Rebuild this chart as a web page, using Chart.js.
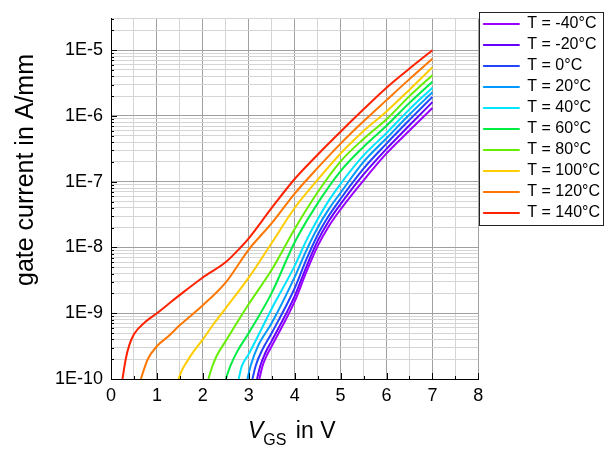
<!DOCTYPE html>
<html>
<head>
  <title>Gate current vs VGS</title>
  <script src="https://cdn.jsdelivr.net/npm/chart.js"></script>
  <style>
    body {
        margin: 0;
        background-color: white;
    }
    #wrap {
        width: 613px;
        height: 449px;
    }
  </style>
</head>
<body>
    <div id="wrap"><canvas id="myChart" width="613" height="449"></canvas></div>

    <script>
        // legend entries, top to bottom
        const tempLabels = ['T = -40°C', 'T = -20°C', 'T = 0°C', 'T = 20°C', 'T = 40°C',
                            'T = 60°C', 'T = 80°C', 'T = 100°C', 'T = 120°C', 'T = 140°C'];

        // V_GS in V / gate current in A/mm
        const vM40 = [3.23, 3.30, 3.40, 3.50, 4.00, 4.25, 4.50, 4.75, 5.00, 5.50, 6.00, 6.50, 7.00];
        const iM40 = [1.0e-10, 1.58e-10, 2.34e-10, 3.16e-10, 1.51e-9, 4.17e-9, 1.05e-8, 2.14e-8, 3.8e-8, 1.05e-7, 2.69e-7, 6.0e-7, 1.32e-6];
        const vM20 = [3.18, 3.25, 3.35, 3.50, 4.00, 4.25, 4.50, 4.75, 5.00, 5.50, 6.00, 6.50, 7.00];
        const iM20 = [1.0e-10, 1.58e-10, 2.4e-10, 3.8e-10, 1.82e-9, 5.0e-9, 1.26e-8, 2.57e-8, 4.57e-8, 1.29e-7, 3.16e-7, 7.2e-7, 1.62e-6];
        const v0 = [3.08, 3.15, 3.30, 3.50, 4.00, 4.25, 4.50, 4.75, 5.00, 5.50, 6.00, 6.50, 7.00];
        const i0 = [1.0e-10, 1.58e-10, 2.82e-10, 5.0e-10, 2.4e-9, 6.46e-9, 1.55e-8, 3.09e-8, 5.5e-8, 1.58e-7, 3.8e-7, 8.7e-7, 1.95e-6];
        const v20 = [2.97, 3.05, 3.20, 3.50, 4.00, 4.25, 4.50, 4.75, 5.00, 5.50, 6.00, 6.50, 7.00];
        const i20 = [1.0e-10, 1.66e-10, 3.16e-10, 7.1e-10, 3.55e-9, 8.9e-9, 2.0e-8, 3.89e-8, 6.8e-8, 2.0e-7, 4.57e-7, 1.05e-6, 2.29e-6];
        const v40 = [2.78, 2.85, 3.00, 3.50, 4.00, 4.25, 4.50, 4.75, 5.00, 5.50, 6.00, 6.50, 7.00];
        const i40 = [1.0e-10, 1.58e-10, 2.4e-10, 1.17e-9, 5.25e-9, 1.26e-8, 2.69e-8, 5.25e-8, 9.3e-8, 2.51e-7, 5.5e-7, 1.26e-6, 2.69e-6];
        const v60 = [2.50, 2.60, 2.75, 3.00, 3.50, 4.00, 4.50, 5.00, 5.50, 6.00, 6.50, 7.00];
        const i60 = [1.0e-10, 1.58e-10, 2.63e-10, 5.0e-10, 2.04e-9, 1.2e-8, 4.68e-8, 1.45e-7, 3.39e-7, 7.1e-7, 1.58e-6, 3.31e-6];
        const v80 = [2.12, 2.20, 2.30, 2.50, 3.00, 3.50, 4.00, 4.50, 5.00, 5.50, 6.00, 6.50, 7.00];
        const i80 = [1.0e-10, 1.51e-10, 2.24e-10, 3.8e-10, 1.38e-9, 4.57e-9, 1.91e-8, 6.9e-8, 2.04e-7, 4.47e-7, 8.9e-7, 2.0e-6, 4.17e-6];
        const v100 = [1.47, 1.55, 1.65, 1.80, 2.00, 2.25, 2.50, 3.00, 3.50, 4.00, 4.50, 5.00, 5.50, 6.00, 6.50, 7.00];
        const i100 = [1.0e-10, 1.38e-10, 1.82e-10, 2.63e-10, 4.0e-10, 7.1e-10, 1.2e-9, 3.47e-9, 1.17e-8, 3.98e-8, 1.07e-7, 2.69e-7, 5.9e-7, 1.17e-6, 2.51e-6, 5.5e-6];
        const v120 = [0.65, 0.72, 0.80, 1.00, 1.25, 1.50, 2.00, 2.50, 3.00, 3.50, 4.00, 4.50, 5.00, 5.50, 6.00, 6.50, 7.00];
        const i120 = [1.0e-10, 1.41e-10, 2.0e-10, 3.16e-10, 4.47e-10, 6.6e-10, 1.32e-9, 2.95e-9, 9.3e-9, 2.34e-8, 6.6e-8, 1.62e-7, 3.8e-7, 8.3e-7, 1.74e-6, 3.63e-6, 7.4e-6];
        const v140 = [0.25, 0.32, 0.40, 0.50, 0.75, 1.00, 1.25, 1.50, 2.00, 2.50, 2.82, 3.00, 3.50, 4.00, 4.50, 5.00, 5.50, 6.00, 6.50, 7.00];
        const i140 = [1.0e-10, 2.0e-10, 3.3e-10, 4.8e-10, 7.4e-10, 1.0e-9, 1.38e-9, 1.9e-9, 3.5e-9, 6.0e-9, 1.0e-8, 1.38e-8, 4.0e-8, 1.1e-7, 2.57e-7, 5.75e-7, 1.26e-6, 2.69e-6, 5.25e-6, 1.0e-5];

        const xTickLabels = ['0', '1', '2', '3', '4', '5', '6', '7', '8'];
        const yTickLabels = ['1E-10', '1E-9', '1E-8', '1E-7', '1E-6', '1E-5'];

        const lineColors = ['#9900ff', '#6600ff', '#2244ff', '#0099ff', '#00e5ff',
                            '#00ee44', '#66ee00', '#ffcc00', '#ff7700', '#ff2200'];

        const seriesV = [vM40, vM20, v0, v20, v40, v60, v80, v100, v120, v140];
        const seriesI = [iM40, iM20, i0, i20, i40, i60, i80, i100, i120, i140];

        const FONT = "'Liberation Sans', Arial, sans-serif";

        function decadeIndex(v) {
            const l = Math.log10(v);
            if (Math.abs(l - Math.round(l)) > 1e-6) return -1;
            return Math.round(l) + 10;
        }

        const datasets = tempLabels.map((lab, k) => ({
            label: lab,
            data: seriesV[k].map((v, j) => ({x: v, y: seriesI[k][j]})),
            borderColor: lineColors[k],
            backgroundColor: lineColors[k],
            borderWidth: 2,
            pointRadius: 0,
            fill: false,
            cubicInterpolationMode: 'monotone'
        }));

        // inward ticks, legend frame and axis titles
        const axisExtras = {
            id: 'axisExtras',
            afterDraw(chart) {
                const ctx = chart.ctx;
                const a = chart.chartArea;
                const xs = chart.scales.x;
                const ys = chart.scales.y;
                ctx.save();
                ctx.strokeStyle = '#000';
                ctx.lineWidth = 1;
                ctx.beginPath();
                ys.ticks.forEach(t => {
                    const y = Math.round(ys.getPixelForValue(t.value)) + 0.5;
                    const len = decadeIndex(t.value) >= 0 ? 6 : 3;
                    ctx.moveTo(a.left, y);
                    ctx.lineTo(a.left + len, y);
                });
                xs.ticks.forEach(t => {
                    const x = Math.round(xs.getPixelForValue(t.value)) + 0.5;
                    const len = Number.isInteger(t.value) ? 6 : 3;
                    ctx.moveTo(x, a.bottom);
                    ctx.lineTo(x, a.bottom - len);
                });
                ctx.stroke();

                // frame round the legend
                const hb = chart.legend.legendHitBoxes;
                if (hb && hb.length) {
                    const first = hb[0], last = hb[hb.length - 1];
                    const l = Math.round(first.left - 4) + 0.5;
                    const t = Math.round(first.top - 4) + 0.5;
                    const r = Math.round(first.left + 120) + 0.5;
                    const b = Math.round(last.top + last.height + 4) + 0.5;
                    ctx.strokeStyle = '#222';
                    ctx.strokeRect(l, t, r - l, b - t);
                }

                // y title
                ctx.fillStyle = '#000';
                ctx.font = '25px ' + FONT;
                ctx.textAlign = 'center';
                ctx.textBaseline = 'alphabetic';
                ctx.translate(33, 170);
                ctx.rotate(-Math.PI / 2);
                ctx.fillText('gate current in A/mm', 0, 0);
                ctx.setTransform(1, 0, 0, 1, 0, 0);

                // x title: V_GS in V
                ctx.textAlign = 'left';
                const fMain = '23px ' + FONT;
                const fItal = 'italic 23px ' + FONT;
                const fSub = '16px ' + FONT;
                ctx.font = fItal; const wV = ctx.measureText('V').width;
                ctx.font = fSub; const wS = ctx.measureText('GS').width;
                let x = 248;
                const base = 438;
                ctx.font = fItal; ctx.fillText('V', x, base); x += wV;
                ctx.font = fSub; ctx.fillText('GS', x, base + 7); x += wS + 3;
                ctx.font = fMain; ctx.fillText(' in V', x, base);
                ctx.restore();
            }
        };

        const ctx = document.getElementById('myChart').getContext('2d');
        const myChart = new Chart(ctx, {
            type: 'line',
            data: { datasets: datasets },
            options: {
                responsive: false,
                animation: false,
                layout: { padding: { top: 7, right: 3, left: 0, bottom: 0 } },
                plugins: {
                    title: { display: false },
                    tooltip: { enabled: false },
                    legend: {
                        position: 'right',
                        align: 'start',
                        title: { display: true, text: ' ', font: { size: 3 }, padding: 0.2 },
                        labels: {
                            boxWidth: 36,
                            boxHeight: 1,
                            padding: 5,
                            color: '#000',
                            font: { family: FONT, size: 16 },
                            generateLabels: chart => Chart.defaults.plugins.legend.labels.generateLabels(chart)
                                .map(l => Object.assign(l, { lineWidth: 1, fillStyle: l.strokeStyle }))
                        }
                    }
                },
                scales: {
                    x: {
                        type: 'linear',
                        min: 0,
                        max: 8,
                        afterBuildTicks: s => {
                            const t = [];
                            for (let k = 0; k <= 16; k++) t.push({ value: k / 2 });
                            s.ticks = t;
                        },
                        afterFit: s => { s.height = 70; },
                        ticks: {
                            autoSkip: false,
                            maxRotation: 0,
                            padding: 6,
                            color: '#000',
                            font: { family: FONT, size: 18 },
                            callback: v => Number.isInteger(v) ? xTickLabels[v] : ''
                        },
                        grid: {
                            drawTicks: false,
                            color: c => c.tick.value === 0 ? 'rgba(0,0,0,0)' :
                                (Number.isInteger(c.tick.value) ? '#a0a0a0' : '#d4d4d4')
                        },
                        border: { color: '#000', width: 1 }
                    },
                    y: {
                        type: 'logarithmic',
                        min: 1e-10,
                        max: 3e-5,
                        afterBuildTicks: s => {
                            const t = [];
                            for (let e = -10; e <= -5; e++) {
                                for (let k = 1; k <= 9; k++) {
                                    const v = k * Math.pow(10, e);
                                    if (v <= 3.0001e-5) t.push({ value: v });
                                }
                            }
                            s.ticks = t;
                        },
                        afterFit: s => { s.width = 111; },
                        ticks: {
                            autoSkip: false,
                            padding: 8,
                            color: '#000',
                            font: { family: FONT, size: 18 },
                            callback: v => {
                                const d = decadeIndex(v);
                                return d >= 0 ? yTickLabels[d] : '';
                            }
                        },
                        grid: {
                            drawTicks: false,
                            color: c => decadeIndex(c.tick.value) === 0 ? 'rgba(0,0,0,0)' :
                                (decadeIndex(c.tick.value) > 0 ? '#a0a0a0' : '#d4d4d4')
                        },
                        border: { color: '#000', width: 1 }
                    }
                }
            },
            plugins: [axisExtras]
        });
    </script>
</body>
</html>
